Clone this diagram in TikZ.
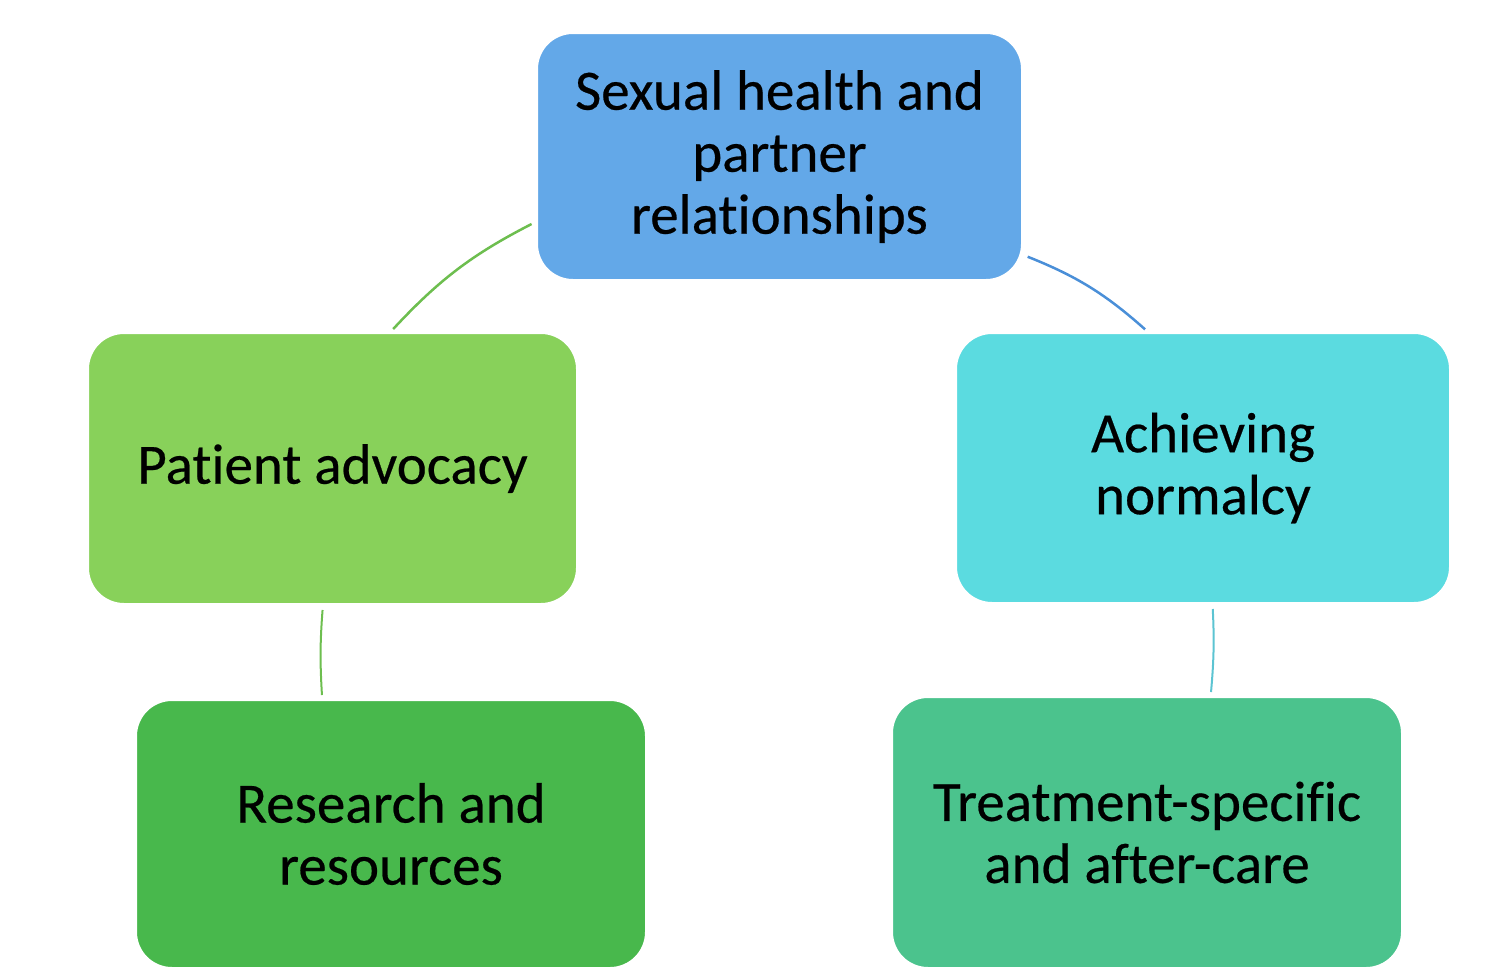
\documentclass[tikz,border=0pt]{standalone}
\usepackage{fontspec}
\setmainfont{Carlito}[Ligatures=NoCommon, FakeBold=0.4]
\usetikzlibrary{positioning}

\definecolor{topblue}{HTML}{63A8E8}
\definecolor{advgreen}{HTML}{88D15A}
\definecolor{normcyan}{HTML}{5BDBE0}
\definecolor{resgreen}{HTML}{48B84C}
\definecolor{treatgreen}{HTML}{4BC38D}
\definecolor{linegreen}{HTML}{6DBE4F}
\definecolor{lineblue}{HTML}{4A8FD8}
\definecolor{linecyan}{HTML}{5CC4D2}

\begin{document}
\begin{tikzpicture}[x=1pt, y=1pt,
    topic/.style={draw=white, line width=2pt, rectangle, rounded corners=36pt,
      align=center, font=\fontsize{57}{62}\selectfont, text=black, inner sep=0pt},
    link/.style={line width=2.5pt, shorten <=5pt, shorten >=4pt}]
    \useasboundingbox (0,0) rectangle (1493,-969);

    \node[topic, fill=topblue, minimum width=485pt, minimum height=247pt] (top) at (779.5,-156.5) {
      Sexual health and \\
      partner \\
      relationships%
    };
    \node[topic, fill=advgreen, minimum width=489pt, minimum height=271pt] (adv) at (332.5,-468.5) {%
      Patient advocacy%
    };
    \node[topic, fill=normcyan, minimum width=494pt, minimum height=270pt] (norm) at (1203,-468) {
      Achieving \\
      normalcy%
    };
    \node[topic, fill=resgreen, minimum width=510pt, minimum height=268pt] (res) at (391,-834) {
      Research and \\
      resources%
    };
    \node[topic, fill=treatgreen, minimum width=510pt, minimum height=271pt] (treat) at (1147,-832.5) {
      Treatment-specific \\
      and after-care%
    };

    \draw[link, linegreen] (top.195) to[bend right=10] (adv.67);
    \draw[link, lineblue] (top.-22) to[bend left=10] (norm.112);
    \draw[link, linegreen, line width=2pt] (adv.-94) to[bend right=4] (res.117);
    \draw[link, linecyan, line width=2pt] (norm.-86) to[bend left=4] (treat.65);
  \end{tikzpicture}
\end{document}
